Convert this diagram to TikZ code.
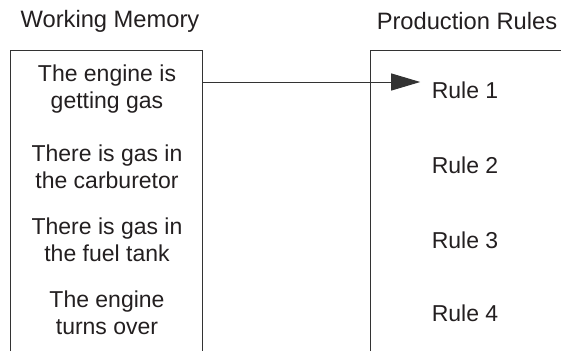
\documentclass[tikz,border=0pt]{standalone}
\usepackage{fontspec}
\setmainfont{Liberation Sans}
\usetikzlibrary{arrows.meta}
\definecolor{ink}{HTML}{231F20}
\tikzset{
	fact/.style = {align = center, text = ink, font = \fontsize{23}{27}\selectfont},
	rule/.style = {text = ink, font = \fontsize{23}{27}\selectfont},
	title/.style = {text = ink, font = \fontsize{23.7}{27}\selectfont},
	frame/.style = {draw = black!80, line width = 1pt},
	fire/.style = {draw = black!80, line width = 1pt, -{Triangle[length=29pt,width=17pt]}, shorten > = 8pt}
}
\begin{document}
\begin{tikzpicture}[x = 1pt, y = -1pt]
	\useasboundingbox (0,0) rectangle (561,351);
	% the two memories, open at the bottom
	\coordinate (wm-top) at (202,50);
	\draw [frame] (10,351) -- (10,50) -- (wm-top) -- (202,351);
	\draw [frame] (370,351) -- (370,50) -- (561,50);
	\node [title] (wm) at (110,21) {Working Memory};
	\node [title] (pr) at (467,21) {Production Rules};
	% facts
	\node [fact] (fact1) at (107,89) {The engine is\\getting gas};
	\node [fact] (fact2) at (107,167) {There is gas in\\the carburetor};
	\node [fact] (fact3) at (107,240) {There is gas in\\the fuel tank};
	\node [fact] (fact4) at (107,313) {The engine\\turns over};
	% rules
	\foreach \i/\y in {1/90,2/165,3/240,4/313}{
	\node [rule] (rule\i) at (465,\y) {Rule \i};
	}
	\coordinate (wm-out) at (202,82);
	\draw [fire] (wm-out) -- ([yshift=8pt]rule1.west);
\end{tikzpicture}
\end{document}
